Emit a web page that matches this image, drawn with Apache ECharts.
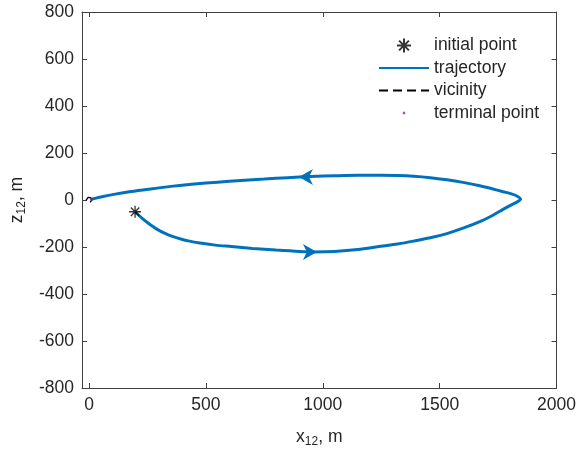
<!DOCTYPE html>
<html>
<head>
<meta charset="utf-8">
<script src="https://cdn.jsdelivr.net/npm/echarts@6/dist/echarts.min.js"></script>
<style>html,body{margin:0;padding:0;background:#fff}#c{width:579px;height:454px}</style>
</head>
<body>
<div id="c"></div>
<script>
// ---- data (metres) ----
const trajX = [197, 225, 254, 290, 325, 360, 396, 430, 467, 540, 609, 700, 800, 900, 962, 1050, 1150, 1247, 1320, 1389, 1460, 1531, 1600, 1672, 1720, 1757, 1793, 1828, 1846, 1828, 1800, 1772, 1720, 1672, 1600, 1531, 1460, 1389, 1320, 1247, 1150, 1050, 950, 850, 750, 650, 550, 450, 350, 254, 180, 112, 60, 10];
const trajZ = [-50, -76, -99, -124, -142, -156, -167, -175, -182, -192, -198, -206, -213, -219, -221, -219, -211, -197, -187, -175, -161, -143, -120, -92, -69, -48, -28, -10, 3, 18, 28, 35, 49, 61, 75, 86, 95, 101, 104, 105, 105, 103, 100, 95, 89, 83, 76, 68, 58, 46, 36, 25, 15, 3];
const initialPoint = [197, -50];
const terminalPoint = [10, 2];
const vicinityCenter = [0, 0];
const vicinityRadius = 12;
const arrowX = [928, 945];
const arrowZ = [98, -221];
const arrowDir = ['left', 'right'];
const xTicks = [0, 500, 1000, 1500, 2000];
const xRange = [-30, 2000];
const yRange = [-800, 800];
const yStep = 200;

const vicinity = [];
for (let i = 0; i <= 40; i++) {
  const a = 2 * Math.PI * i / 40;
  vicinity.push([vicinityCenter[0] + vicinityRadius * Math.cos(a), vicinityCenter[1] + vicinityRadius * Math.sin(a)]);
}
const traj = trajX.map((x, i) => [x, trajZ[i]]);
const FONT = 'Liberation Sans';
const FS = 17.5;
const AXC = '#404040';
const TXC = '#262626';
const asterisk = 'path://M6,0 L6,12 M0,6 L12,6 M1.8,1.8 L10.2,10.2 M1.8,10.2 L10.2,1.8';
const arrowPath = 'path://M14,8 L0,0 L4,8 L0,16 Z';
const tinyDot = 'path://M0,0 L0.01,0 L0,0.01 Z M14,14 L13.99,14 L14,13.99 Z M5.8,5.8 L8.2,5.8 L8.2,8.2 L5.8,8.2 Z';

const chart = echarts.init(document.getElementById('c'), null, {renderer: 'canvas'});
const axisCommon = {
  axisLine: {show: true, onZero: false, lineStyle: {color: AXC, width: 1}},
  axisTick: {show: true, inside: true, length: 5, lineStyle: {color: AXC, width: 1}},
  splitLine: {show: false}
};
const richName = {b: {fontFamily: FONT, fontSize: FS, color: TXC}, s: {fontFamily: FONT, fontSize: 12, color: TXC, padding: [10, 0, 0, 0]}};
chart.setOption({
  animation: false,
  backgroundColor: '#fff',
  grid: {left: 80, right: 22, top: 12, bottom: 66},
  legend: {
    orient: 'vertical', left: 373, top: 30.5,
    itemWidth: 50, itemHeight: 14, itemGap: 2.5,
    textStyle: {fontFamily: FONT, fontSize: FS, color: TXC, lineHeight: 20},
    data: ['initial point', 'trajectory', 'vicinity', {name: 'terminal point', icon: tinyDot}]
  },
  xAxis: [
    Object.assign({}, axisCommon, {
      type: 'value', min: xRange[0], max: xRange[1], position: 'bottom',
      name: '{b|x}{s|12}{b|, m}', nameLocation: 'middle', nameGap: 38,
      nameTextStyle: {rich: richName},
      axisTick: Object.assign({}, axisCommon.axisTick, {customValues: xTicks}),
      axisLabel: {customValues: xTicks, formatter: v => String(v), fontFamily: FONT, fontSize: FS, color: TXC, margin: 8}
    }),
    Object.assign({}, axisCommon, {
      type: 'value', min: xRange[0], max: xRange[1], position: 'top',
      axisTick: Object.assign({}, axisCommon.axisTick, {customValues: xTicks}),
      axisLabel: {show: false}
    })
  ],
  yAxis: [
    Object.assign({}, axisCommon, {
      type: 'value', min: yRange[0], max: yRange[1], interval: yStep, position: 'left',
      name: '{b|z}{s|12}{b|, m}', nameLocation: 'middle', nameGap: 54, nameRotate: 90,
      nameTextStyle: {rich: richName},
      axisLabel: {fontFamily: FONT, fontSize: FS, color: TXC, margin: 8}
    }),
    Object.assign({}, axisCommon, {
      type: 'value', min: yRange[0], max: yRange[1], interval: yStep, position: 'right',
      axisLabel: {show: false}
    })
  ],
  series: [
    {
      name: 'trajectory', type: 'line', data: traj, smooth: 0.3, symbol: 'none',
      lineStyle: {color: '#0072BD', width: 3}, itemStyle: {color: '#0072BD', opacity: 0}, z: 2,
      markPoint: {
        symbol: arrowPath, symbolSize: [14, 16], silent: true,
        itemStyle: {color: '#0072BD', opacity: 1}, label: {show: false},
        data: arrowX.map((x, i) => ({coord: [x, arrowZ[i]], symbolRotate: arrowDir[i] === 'left' ? 180 : 0}))
      }
    },
    {
      name: 'vicinity', type: 'line', data: vicinity, symbol: 'none',
      lineStyle: {color: '#000', width: 1.3, type: [9, 5]}, itemStyle: {color: '#000', opacity: 0}, z: 3
    },
    {
      name: 'terminal point', type: 'scatter', data: [terminalPoint], symbol: 'circle', symbolSize: 3,
      itemStyle: {color: '#7E2F8E'}, z: 4
    },
    {
      name: 'initial point', type: 'scatter', data: [initialPoint], symbol: asterisk, symbolSize: 12,
      symbolKeepAspect: true,
      itemStyle: {color: 'rgba(0,0,0,0)', borderColor: '#000', borderWidth: 1.3}, z: 5
    }
  ]
});
</script>
</body>
</html>
